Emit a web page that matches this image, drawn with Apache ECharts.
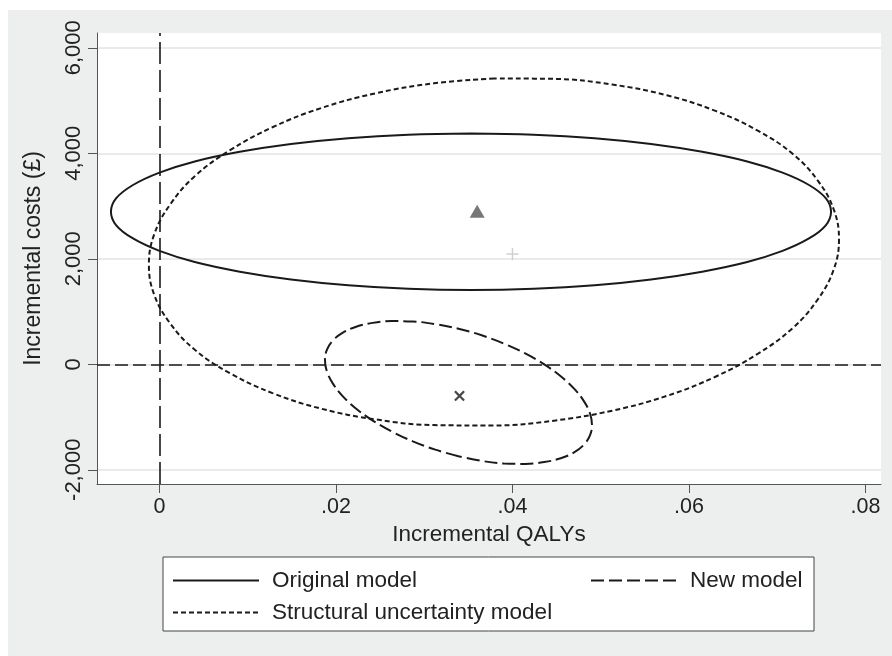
<!DOCTYPE html>
<html>
<head>
<meta charset="utf-8">
<script src="https://cdn.jsdelivr.net/npm/echarts@6/dist/echarts.min.js"></script>
<style>
html,body{margin:0;padding:0;background:#fff;}
#chart{width:892px;height:656px;}
</style>
</head>
<body>
<div id="chart"></div>
<script>
// ---- data ----
const xTicks = [0, 0.02, 0.04, 0.06, 0.08];
const yTicks = [-2000, 0, 2000, 4000, 6000];
const xRange = [-0.00708, 0.08176];
const yRange = [-2270, 6281];

const seriesNames = ['Original model', 'New model', 'Structural uncertainty model'];

// Original model ellipse (points traced around the solid curve)
const originalModel = [
  [0.0353,4375],[0.0282,4352],[0.0214,4286],[0.0149,4176],[0.0091,4028],[0.0040,3845],
  [0.0000,3634],[-0.0030,3399],[-0.0049,3149],[-0.0055,2892],[-0.0049,2635],[-0.0030,2385],
  [0.0000,2150],[0.0040,1939],[0.0091,1756],[0.0149,1608],[0.0214,1498],[0.0282,1432],
  [0.0353,1409],[0.0424,1432],[0.0493,1498],[0.0557,1608],[0.0615,1756],[0.0666,1939],
  [0.0706,2150],[0.0736,2385],[0.0755,2635],[0.0761,2892],[0.0755,3149],[0.0736,3399],
  [0.0706,3634],[0.0666,3845],[0.0615,4028],[0.0557,4176],[0.0493,4286],[0.0424,4352],
  [0.0353,4375]
];

// Structural uncertainty model ellipse (dotted curve)
const structuralModel = [
  [0.0379,5419],[0.0311,5327],[0.0245,5138],[0.0183,4857],[0.0128,4494],[0.0080,4059],
  [0.0040,3565],[0.0012,3027],[-0.0006,2462],[-0.0012,1887],[-0.0006,1320],[0.0012,777],
  [0.0040,275],[0.0080,-171],[0.0128,-546],[0.0183,-841],[0.0245,-1046],[0.0311,-1153],
  [0.0379,-1161],[0.0447,-1069],[0.0513,-880],[0.0575,-599],[0.0630,-236],[0.0678,199],
  [0.0718,693],[0.0746,1231],[0.0764,1796],[0.0770,2371],[0.0764,2938],[0.0746,3481],
  [0.0718,3983],[0.0678,4429],[0.0630,4804],[0.0575,5099],[0.0513,5304],[0.0447,5411],
  [0.0379,5419]
];

// New model ellipse (dashed curve)
const newModel = [
  [0.03388,-1744],[0.03125,-1619],[0.02871,-1461],[0.02632,-1275],[0.02416,-1067],[0.02229,-842],
  [0.02078,-608],[0.01967,-372],[0.01898,-141],[0.01875,79],[0.01898,279],[0.01967,455],
  [0.02078,601],[0.02229,712],[0.02416,785],[0.02632,819],[0.02871,811],[0.03125,762],
  [0.03388,674],[0.03651,549],[0.03905,391],[0.04144,205],[0.04360,-3],[0.04547,-228],
  [0.04698,-462],[0.04809,-698],[0.04878,-929],[0.04901,-1149],[0.04878,-1349],[0.04809,-1525],
  [0.04698,-1671],[0.04547,-1782],[0.04360,-1855],[0.04144,-1889],[0.03905,-1881],[0.03651,-1832],
  [0.03388,-1744]
];

// point estimates
const originalPoint = [0.036, 2900];
const structuralPoint = [0.040, 2090];
const newPoint = [0.034, -600];

// ---- chart ----
const FONT = "'Liberation Sans', Arial, Helvetica, sans-serif";
const TXT = '#222222';
const AX = '#555555';

const chart = echarts.init(document.getElementById('chart'), null, {renderer: 'canvas'});

function fmtX(v) {
  if (v === 0) return '0';
  return String(Math.round(v * 100) / 100).replace(/^0\./, '.');
}
function fmtY(v) {
  const s = Math.abs(v).toLocaleString('en-US');
  return (v < 0 ? '-' : '') + s;
}

const crossPath = 'path://M-0.12,-1 L0.12,-1 L0.12,-0.12 L1,-0.12 L1,0.12 L0.12,0.12 L0.12,1 L-0.12,1 L-0.12,0.12 L-1,0.12 L-1,-0.12 L-0.12,-0.12 Z';
const xPath = 'path://M-0.17,-1 L0.17,-1 L0.17,-0.17 L1,-0.17 L1,0.17 L0.17,0.17 L0.17,1 L-0.17,1 L-0.17,0.17 L-1,0.17 L-1,-0.17 L-0.17,-0.17 Z';

const legendCommon = {
  orient: 'vertical',
  top: 569,
  padding: 0,
  itemWidth: 86, itemHeight: 14, itemGap: 9,
  itemStyle: {opacity: 0},
  textStyle: {fontFamily: FONT, fontSize: 22.5, color: TXT, lineHeight: 20, padding: [0, 0, 0, 8]},
  selectedMode: false, z: 5
};

const option = {
  animation: false,
  backgroundColor: '#edefee',
  textStyle: {fontFamily: FONT},
  graphic: [
    {type: 'rect', shape: {x: 0, y: 0, width: 892, height: 10}, style: {fill: '#ffffff'}, z: 0, silent: true},
    {type: 'rect', shape: {x: 0, y: 0, width: 8, height: 656}, style: {fill: '#ffffff'}, z: 0, silent: true},
    {type: 'rect', shape: {x: 163, y: 557, width: 651, height: 74}, style: {fill: '#ffffff', stroke: '#444444', lineWidth: 1}, z: 1, silent: true}
  ],
  grid: {
    left: 97, top: 33, width: 784, height: 451,
    show: true, backgroundColor: '#ffffff', borderWidth: 0
  },
  legend: [
    Object.assign({}, legendCommon, {data: [seriesNames[0], seriesNames[2]], left: 172}),
    Object.assign({}, legendCommon, {data: [seriesNames[1]], left: 590})
  ],
  xAxis: {
    type: 'value',
    min: xRange[0], max: xRange[1],
    name: 'Incremental QALYs',
    nameLocation: 'middle', nameGap: 38,
    nameTextStyle: {fontFamily: FONT, fontSize: 22.5, color: TXT},
    axisLine: {show: true, onZero: false, lineStyle: {color: AX, width: 1}},
    axisTick: {show: true, length: 9, inside: false, customValues: xTicks, lineStyle: {color: AX, width: 1}},
    axisLabel: {customValues: xTicks, formatter: fmtX, fontFamily: FONT, fontSize: 21.5, color: TXT, margin: 12},
    splitLine: {show: false}
  },
  yAxis: {
    type: 'value',
    min: yRange[0], max: yRange[1],
    name: 'Incremental costs (£)',
    nameLocation: 'middle', nameGap: 52, nameRotate: 90,
    nameTextStyle: {fontFamily: FONT, fontSize: 23, color: TXT},
    axisLine: {show: true, onZero: false, lineStyle: {color: AX, width: 1}},
    axisTick: {show: true, length: 9, inside: false, customValues: yTicks, lineStyle: {color: AX, width: 1}},
    axisLabel: {customValues: yTicks, formatter: fmtY, rotate: 90, fontFamily: FONT, fontSize: 22, color: TXT, margin: 12},
    splitLine: {show: true, lineStyle: {color: '#e2e4e3', width: 1.5}}
  },
  series: [
    {
      name: seriesNames[0], type: 'line', data: originalModel,
      smooth: 0.4, symbol: 'none', z: 3,
      lineStyle: {color: '#1a1a1a', width: 2, type: 'solid'},
      itemStyle: {color: '#1a1a1a'},
      markLine: {
        silent: true, symbol: 'none', label: {show: false},
        data: [
          {xAxis: 0, lineStyle: {color: '#1a1a1a', width: 1.6, type: [22, 6]}},
          {yAxis: 0, lineStyle: {color: '#1a1a1a', width: 1.6, type: [13, 5]}}
        ]
      }
    },
    {
      name: seriesNames[1], type: 'line', data: newModel,
      smooth: 0.4, symbol: 'none', z: 3,
      lineStyle: {color: '#1a1a1a', width: 2, type: [13, 5]},
      itemStyle: {color: '#1a1a1a'}
    },
    {
      name: seriesNames[2], type: 'line', data: structuralModel,
      smooth: 0.4, symbol: 'none', z: 3,
      lineStyle: {color: '#1a1a1a', width: 2, type: [5, 3]},
      itemStyle: {color: '#1a1a1a'}
    },
    {
      name: 'Original estimate', type: 'scatter', data: [originalPoint],
      symbol: 'triangle', symbolSize: [15, 13], z: 4,
      itemStyle: {color: '#555555'}
    },
    {
      name: 'Structural estimate', type: 'scatter', data: [structuralPoint],
      symbol: crossPath, symbolSize: 12, z: 4,
      itemStyle: {color: '#c4c4c4'}
    },
    {
      name: 'New estimate', type: 'scatter', data: [newPoint],
      symbol: xPath, symbolSize: 13, symbolRotate: 45, z: 4,
      itemStyle: {color: '#1a1a1a'}
    }
  ]
};
chart.setOption(option);
</script>
</body>
</html>
